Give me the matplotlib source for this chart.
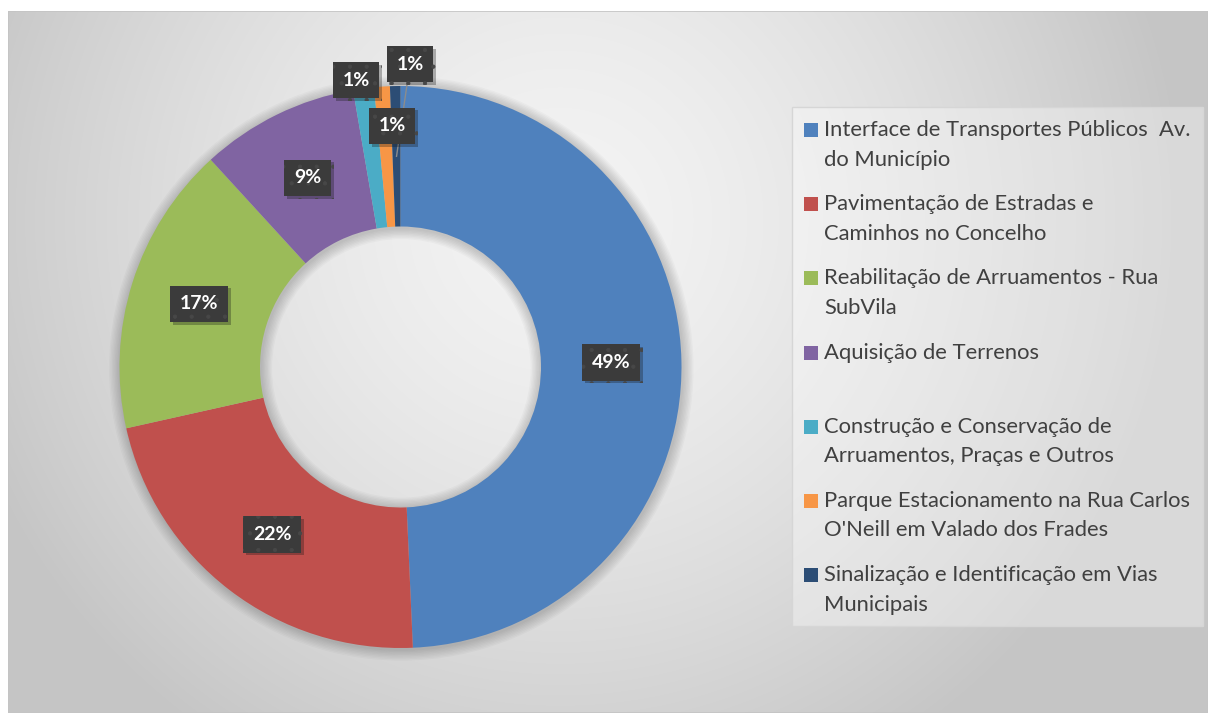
import numpy as np
import matplotlib.pyplot as plt
from matplotlib.patches import Rectangle, Wedge
from matplotlib import patheffects

# investment split by project (percent of total)
projetos = ['Interface de Transportes Públicos  Av.\ndo Município',
            'Pavimentação de Estradas e\nCaminhos no Concelho',
            'Reabilitação de Arruamentos - Rua\nSubVila',
            'Aquisição de Terrenos',
            'Construção e Conservação de\nArruamentos, Praças e Outros',
            'Parque Estacionamento na Rua Carlos\nO\'Neill em Valado dos Frades',
            'Sinalização e Identificação em Vias\nMunicipais']
valores = [49.3, 22.2, 16.7, 9.1, 1.2, 0.9, 0.6]
cores = ['#4F81BD', '#C0504D', '#9BBB59', '#8064A2', '#4BACC6', '#F79646', '#2C4D75']

W, H = 1208, 713
fig = plt.figure(figsize=(W / 100, H / 100), dpi=100)
fig.patch.set_facecolor('white')

# gradient background of the chart area
bg = fig.add_axes([8 / W, 0, (W - 8) / W, (H - 11) / H])
yy, xx = np.mgrid[11:H, 8:W]
d = np.hypot(xx - 560, yy - 220)
v = np.clip(0.955 - 0.17 * (d / 600) ** 1.5, 0.775, 1)
bg.imshow(np.dstack([v, v, v]), aspect='auto', extent=[0, 1, 0, 1], origin='upper')
bg.set_xlim(0, 1)
bg.set_ylim(0, 1)
bg.axis('off')
bg.add_patch(Rectangle((0, 0), 1, 1, transform=bg.transAxes, fill=False,
                       ec='#c4c4c4', lw=1.2))

# donut
cx, cy, R = 400.5, 367, 281
half = 300
ax = fig.add_axes([(cx - half) / W, (H - cy - half) / H, 2 * half / W, 2 * half / H])

# soft shadow around the ring
for k in range(8, 0, -1):
    ax.add_patch(Wedge((0.003, -0.005), 1 + k * 0.005, 0, 360, width=0.5 + k * 0.01,
                       color='black', alpha=0.022, lw=0))

wedges, textos, pcts = ax.pie(valores, colors=cores, startangle=90, counterclock=False,
                              radius=1, autopct='%.0f%%', pctdistance=0.75,
                              wedgeprops=dict(width=0.5, linewidth=0))
ax.set_xlim(-half / R, half / R)
ax.set_ylim(-half / R, half / R)
ax.set_aspect('equal')
ax.axis('off')

plt.rcParams['hatch.linewidth'] = 0.6

# small slices get their labels moved outward
desloc = {4: (-0.158, 1.021), 5: (-0.03, 0.858), 6: (0.034, 1.078)}
for i, t in enumerate(pcts):
    t.set_color('white')
    t.set_fontsize(14)
    t.set_fontweight('bold')
    t.set_fontfamily('Lato')
    t.set_bbox(dict(boxstyle='square,pad=0.5', fc='#3b3b3b', ec='#474747', lw=0, hatch='.'))
    t.get_bbox_patch().set_path_effects([
        patheffects.SimplePatchShadow(offset=(2, -2), alpha=0.3), patheffects.Normal()])
    if i in desloc:
        t.set_position(desloc[i])
    t.set_zorder(5)

# leader line for the last slice
w = wedges[6]
ang = np.deg2rad((w.theta1 + w.theta2) / 2)
ax.plot([0.75 * np.cos(ang), desloc[6][0]], [0.75 * np.sin(ang), desloc[6][1]],
        color='#8c8c8c', lw=1, zorder=4)

# legend box
lg = fig.add_axes([0, 0, 1, 1], facecolor='none')
lg.set_xlim(0, W)
lg.set_ylim(H, 0)
lg.axis('off')
lg.add_patch(Rectangle((792, 107), 411, 519, fc='white', alpha=0.35, ec='none'))
lg.add_patch(Rectangle((792, 107), 411, 519, fill=False, ec='#d6d6d6', lw=1))
for i, (nome, cor) in enumerate(zip(projetos, cores)):
    y0 = 130 + i * 74.2
    lg.add_patch(Rectangle((804, y0 - 7), 14, 14, fc=cor, ec='none'))
    for j, linha in enumerate(nome.split('\n')):
        lg.text(824, y0 + j * 29.5, linha, fontsize=15.8, color='#404040',
                family='Lato', va='center', ha='left')

fig.savefig('out.png', dpi=100)
